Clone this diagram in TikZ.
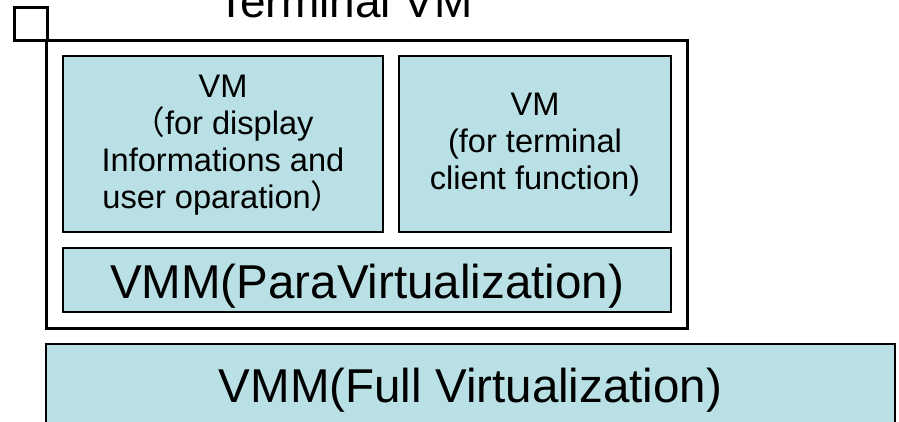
\documentclass[tikz,border=0pt]{standalone}
\usepackage{fontspec}
\setmainfont{Liberation Sans}
\newfontfamily\cjk{Noto Sans CJK JP}
\definecolor{boxfill}{RGB}{185,224,228}
\begin{document}
\begin{tikzpicture}[x=1pt,y=-1pt,
  frame/.style={draw=black,line width=3pt,inner sep=0pt,outer sep=0pt},
  vmbox/.style={draw=black,line width=2.6pt,fill=boxfill,inner sep=0pt,outer sep=0pt},
  small/.style={font=\fontsize{32.6}{37}\selectfont,align=center,inner sep=0pt},
  big/.style={font=\fontsize{47.5}{52}\selectfont,inner sep=0pt,anchor=base}]
\clip (0,0) rectangle (899,421);
\node[frame,minimum width=33pt,minimum height=33pt] (sq) at (30.5,23.5) {};
\node[frame,minimum width=641pt,minimum height=288pt] (outer) at (366.5,184) {};
\node[vmbox,minimum width=320pt,minimum height=176pt] (vm1) at (223,144) {};
\node[vmbox,minimum width=272pt,minimum height=176pt] (vm2) at (535,144) {};
\node[vmbox,minimum width=608pt,minimum height=64pt] (para) at (367,280) {};
\node[vmbox,minimum width=849pt,minimum height=116pt] (full) at (470.5,402) {};
\node[big,font=\fontsize{46}{52}\selectfont] (title) at (345,17) {Terminal VM};
\node[small] (vm1t) at ([yshift=-1.5pt]vm1.center) {VM\\{\cjk （}for display\\Informations and\\user oparation{\cjk ）}};
\node[small] (vm2t) at ([yshift=-1pt]vm2.center) {VM\\(for terminal\\client function)};
\node[big] (parat) at (367,298) {VMM(ParaVirtualization)};
\node[big] (fullt) at (470.5,402) {VMM(Full Virtualization)};
\end{tikzpicture}
\end{document}
